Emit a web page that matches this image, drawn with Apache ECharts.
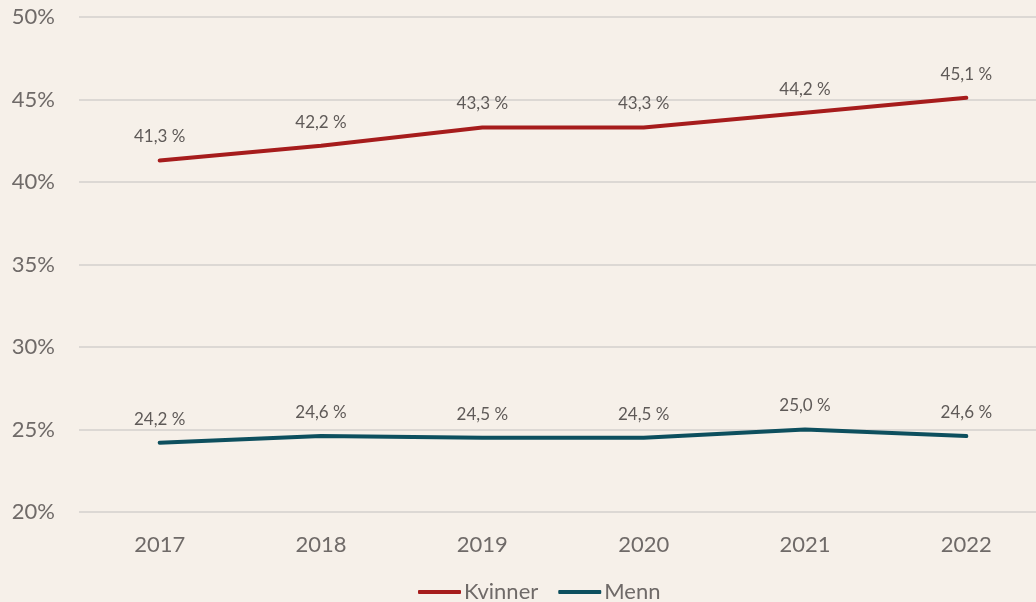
<!DOCTYPE html>
<html>
<head>
<meta charset="utf-8">
<script src="https://cdn.jsdelivr.net/npm/echarts@6/dist/echarts.min.js"></script>
<style>
html,body{margin:0;padding:0;background:#f6f0e9;}
#container{width:1036px;height:602px;}
</style>
</head>
<body>
<div id="container"></div>
<script>
var years = ['2017','2018','2019','2020','2021','2022'];
var kvinner = [41.3, 42.2, 43.3, 43.3, 44.2, 45.1];
var menn = [24.2, 24.6, 24.5, 24.5, 25.0, 24.6];
var yTicks = [20, 25, 30, 35, 40, 45, 50];

var fontFam = 'Lato, "Open Sans", sans-serif';

function pct(v){
	return v.toFixed(1).replace('.', ',') + ' %';
}
function mkSeries(name, data, color){
	return {
		name: name,
		type: 'line',
		data: data,
		symbol: 'circle',
		symbolSize: 0.1,
		lineStyle: {color: color, width: 4, cap: 'round'},
		itemStyle: {color: color},
		label: {
			show: true,
			position: 'top',
			distance: 15,
			color: '#5f5a58',
			fontSize: 17,
			fontFamily: fontFam,
			formatter: function(p){ return pct(p.value); }
		}
	};
}

var chart = echarts.init(document.getElementById('container'));
var option = {
	backgroundColor: '#f6f0e9',
	animation: false,
	grid: {left: 79, width: 968, top: 17, bottom: 90, outerBoundsMode: 'none'},
	legend: {
		top: 576,
		left: 413,
		itemWidth: 43,
		itemHeight: 4,
		itemGap: 20,
		icon: 'roundRect',
		data: ['Kvinner', 'Menn'],
		textStyle: {color: '#6f6a68', fontSize: 22, fontFamily: fontFam, padding: [0, 0, 0, -2]}
	},
	xAxis: {
		type: 'category',
		data: years,
		boundaryGap: true,
		axisLine: {show: false},
		axisTick: {show: false},
		axisLabel: {color: '#6f6a68', fontSize: 22, fontFamily: fontFam, margin: 22}
	},
	yAxis: {
		type: 'value',
		min: yTicks[0],
		max: yTicks[yTicks.length - 1],
		interval: 5,
		axisLine: {show: false},
		axisTick: {show: false},
		splitLine: {lineStyle: {color: '#dcd8d4', width: 2}},
		axisLabel: {color: '#6f6a68', fontSize: 22, fontFamily: fontFam, margin: 24,
			formatter: function(v){ return v + '%'; }}
	},
	series: [
		mkSeries('Kvinner', kvinner, '#a61c1c'),
		mkSeries('Menn', menn, '#0d4f5e')
	]
};
chart.setOption(option);
</script>
</body>
</html>
